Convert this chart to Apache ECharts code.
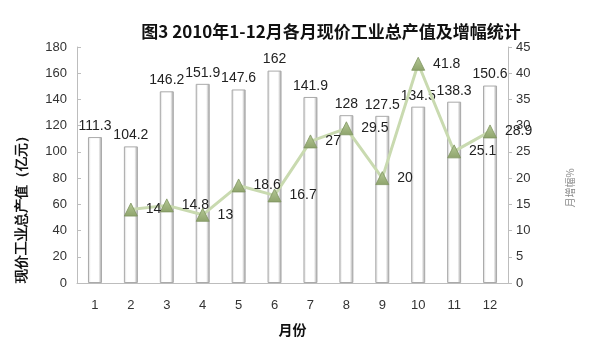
<!DOCTYPE html>
<html><head><meta charset="utf-8">
<script src="https://cdn.jsdelivr.net/npm/echarts@6/dist/echarts.min.js"></script>
<style>html,body{margin:0;padding:0;background:#fff}#c{width:604px;height:356px}</style>
</head><body><div id="c"></div>
<script>
const months = ['1','2','3','4','5','6','7','8','9','10','11','12'];
const outputValues = [111.3,104.2,146.2,151.9,147.6,162,141.9,128,127.5,134.5,138.3,150.6];
const growthValues = [null,14,14.8,13,18.6,16.7,27,29.5,20,41.8,25.1,28.9];
const leftTicks = {min:0,max:180,interval:20};
const rightTicks = {min:0,max:45,interval:5};
const leftName = '现价工业总产值（亿元）';
const rightName = '月增幅%';

const chart = echarts.init(document.getElementById('c'));
const font = '"Liberation Sans","Noto Sans CJK SC",sans-serif';
const cjk = '"Noto Sans CJK SC",sans-serif';
chart.setOption({
  animation:false,
  title:{text:'图3 2010年1-12月各月现价工业总产值及增幅统计',left:326,textAlign:'center',top:18,
    textStyle:{fontSize:17,fontWeight:'bold',color:'#111',fontFamily:cjk}},
  graphic:[
    {type:'text',x:22,y:206,rotation:Math.PI/2,
      style:{text:leftName,fontSize:14,fontWeight:'bold',fill:'#111',font:'bold 14px '+cjk,align:'center',verticalAlign:'middle'}},
    {type:'text',x:570,y:188,rotation:Math.PI/2,
      style:{text:rightName,fill:'#888',font:'10px '+cjk,align:'center',verticalAlign:'middle'}}
  ],
  grid:{left:77,right:96,top:47,bottom:73},
  xAxis:{type:'category',data:months,name:'月份',nameLocation:'middle',nameGap:40,
    nameTextStyle:{fontSize:14,fontWeight:'bold',color:'#111',fontFamily:cjk},
    axisLine:{lineStyle:{color:'#bdbdbd'}},axisTick:{inside:true,length:4,lineStyle:{color:'#bdbdbd'}},
    axisLabel:{fontSize:13,color:'#333',margin:16,fontFamily:font}},
  yAxis:[{type:'value',min:leftTicks.min,max:leftTicks.max,interval:leftTicks.interval,
    axisLine:{show:true,lineStyle:{color:'#bdbdbd'}},axisTick:{show:true,inside:true,length:4,lineStyle:{color:'#bdbdbd'}},
    splitLine:{show:false},axisLabel:{fontSize:13,color:'#333',margin:10,fontFamily:font}},
   {type:'value',min:rightTicks.min,max:rightTicks.max,interval:rightTicks.interval,position:'right',
    axisLine:{show:true,lineStyle:{color:'#bdbdbd'}},axisTick:{show:true,length:4,lineStyle:{color:'#bdbdbd'}},
    splitLine:{show:false},axisLabel:{fontSize:13,color:'#333',margin:8,fontFamily:font}}],
  series:[{type:'bar',data:outputValues,barWidth:14,yAxisIndex:0,
    itemStyle:{color:new echarts.graphic.LinearGradient(0,0,1,0,[
      {offset:0,color:'#cfcfcf'},{offset:0.2,color:'#ffffff'},{offset:0.75,color:'#ffffff'},{offset:1,color:'#9a9a9a'}]),
      borderColor:'#aaaaaa',borderWidth:1},
    label:{show:true,position:'top',distance:4,fontSize:14,color:'#222',fontFamily:font}},
   {type:'line',data:growthValues,yAxisIndex:1,symbol:'triangle',symbolSize:13,
    lineStyle:{color:'#c9dab0',width:3},
    itemStyle:{color:new echarts.graphic.LinearGradient(0,0,0,1,[{offset:0,color:'#b5c995'},{offset:1,color:'#8ea36c'}]),
      borderColor:'#7d9360',borderWidth:0.8},
    label:{show:true,position:'right',distance:8,fontSize:14,color:'#222',fontFamily:font}}]
});
</script></body></html>
